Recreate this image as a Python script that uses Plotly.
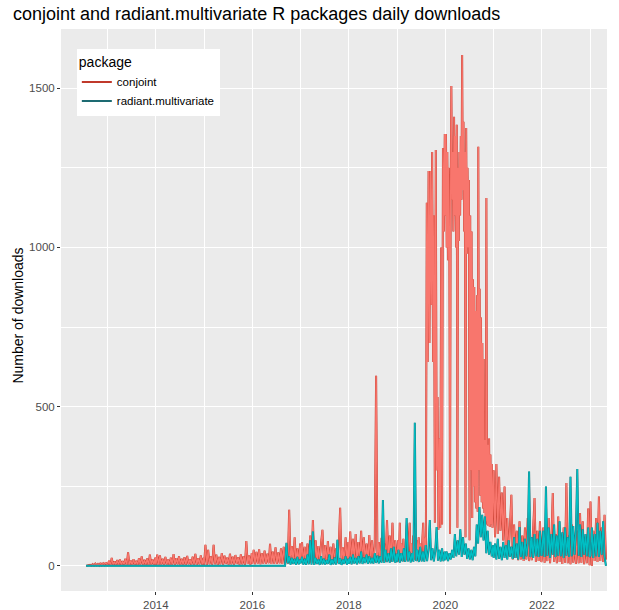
import pandas as pd
import plotly.graph_objects as go

# ---- data (approx. 5-10 day samples, one list per year) ----
conjoint_2012 = [0, 1, 0, 3, 1, 5, 1, 7, 2, 6, 1, 9, 2, 8, 3, 11, 2]
conjoint_2013 = [2, 16, 1, 25, 3, 14, 2, 18, 3, 20, 2, 15, 4, 22, 2, 42, 3, 17, 2, 21,
                 3, 16, 2, 24, 4, 30, 2, 19, 3, 23, 2, 35, 4, 20, 3, 26]
conjoint_2014 = [3, 35, 2, 33, 4, 22, 3, 28, 4, 20, 2, 26, 4, 37, 3, 24, 5, 30, 3, 22,
                 4, 27, 2, 31, 5, 21, 3, 29, 4, 38, 3, 24, 5, 33, 4, 25]
conjoint_2015 = [4, 66, 3, 50, 5, 30, 4, 66, 5, 35, 3, 28, 5, 40, 4, 32, 6, 26, 4, 38,
                 5, 29, 4, 34, 6, 27, 4, 36, 5, 30, 4, 78, 6, 33, 4, 40]
conjoint_2016 = [6, 50, 5, 44, 7, 52, 5, 40, 7, 48, 6, 38, 8, 69, 6, 45, 7, 58, 6, 42,
                 8, 55, 6, 60, 8, 48, 7, 176, 9, 62, 8, 90, 10, 55, 8, 70]
conjoint_2017 = [12, 75, 9, 60, 11, 70, 8, 95, 10, 144, 8, 80, 12, 62, 9, 72, 113, 10, 65, 8,
                 78, 11, 60, 9, 70, 12, 55, 10, 68, 182, 11, 58, 9, 90, 12, 75]
conjoint_2018 = [14, 108, 12, 85, 15, 100, 11, 75, 14, 110, 12, 90, 15, 70, 12, 97, 14, 80, 11, 60,
                 597, 13, 75, 12, 88, 15, 70, 13, 144, 16, 95, 14, 135, 17, 80, 15]
conjoint_2019 = [16, 80, 14, 135, 17, 70, 15, 85, 14, 60, 18, 130, 15, 75, 135, 17, 70, 16, 95, 20,
                 65, 18, 80, 15, 90, 20, 70, 18, 85, 135, 22, 90,
                 60, 1140, 640, 1240, 700, 1240, 820, 1300, 640, 1100, 135, 1306, 300, 530, 113,
                 400, 120, 1000, 130, 1312, 1050, 1356]
conjoint_2020 = [1100, 1356, 1000, 1300, 960, 1250, 1050, 100, 1200, 1507,
                 1150, 1300, 1050, 1410, 1100, 1350, 1000, 1385, 120, 1250,
                 1020, 1300, 1100, 1350, 1150, 1604, 1180, 1395, 1050, 1300,
                 90, 1375, 980, 1250, 1000, 1212, 80, 1100, 300, 1050,
                 150, 900, 250, 876, 200, 800, 180, 850, 170, 1316,
                 300, 870, 220, 780, 200, 700, 180, 650, 166, 395,
                 140, 1155, 130, 380, 125, 400, 122, 350, 130, 320,
                 120, 300]
conjoint_2021 = [300, 90, 320, 100, 280, 110, 230, 80, 249, 40, 150, 30, 120, 223, 20, 130, 25, 110,
                 18, 140, 20, 95, 15, 120, 20, 150, 15, 90, 18, 125, 213, 12, 110, 15, 140, 12]
conjoint_2022 = [20, 120, 10, 90, 15, 150, 8, 80, 229, 12, 100, 8, 155, 12, 85, 6, 120, 10, 260,
                 8, 95, 5, 130, 10, 75, 6, 110, 8, 166, 10, 140, 5, 90, 8, 180, 2]
conjoint_2023 = [202, 0, 110, 15, 150, 12, 218, 15, 120, 12, 160, 20]

radiant_2012 = [0, 0]
radiant_2013 = [0, 0]
radiant_2014 = [0, 0]
radiant_2015 = [0, 0]
radiant_2016 = [0, 0, 0, 0, 0, 0, 0, 0, 0, 0, 0, 0, 0, 0, 0, 0, 0, 0, 0, 0, 0, 0, 0, 0, 0,
                72, 8, 30, 4, 25, 6, 22, 3, 28, 5, 20]
radiant_2017 = [8, 28, 4, 22, 3, 35, 5, 80, 4, 108, 3, 25, 6, 20, 3, 30, 5, 22, 4, 18,
                6, 35, 3, 20, 5, 26, 4, 82, 6, 24, 3, 20, 6, 30, 4, 22]
radiant_2018 = [6, 28, 5, 35, 7, 25, 5, 30, 8, 45, 6, 26, 9, 35, 6, 30, 8, 25, 7, 40,
                9, 32, 8, 30, 10, 207, 9, 50, 12, 40, 10, 55, 12, 60, 10, 38]
radiant_2019 = [12, 50, 10, 40, 14, 55, 12, 150, 14, 45, 11, 40, 13, 449, 15, 50, 12, 60, 14, 45,
                13, 65, 15, 48, 144, 18, 55, 14, 45, 122, 16, 50, 14, 55, 15, 45]
radiant_2020 = [18, 45, 15, 40, 20, 50, 25, 100, 30, 80, 35, 115, 28, 90, 35, 70, 22, 55, 20, 50,
                18, 60, 30, 130, 70, 185, 90, 160, 80, 155, 40, 110, 35, 75, 30, 65]
radiant_2021 = [25, 70, 20, 85, 22, 60, 18, 75, 25, 65, 20, 80, 28, 60, 22, 90, 25, 70, 20, 122,
                28, 75, 22, 85, 30, 70, 296, 28, 90, 25, 100, 30, 85, 28, 110, 32]
radiant_2022 = [35, 110, 28, 249, 32, 120, 25, 100, 35, 130, 28, 95, 32, 140, 30, 105, 25, 120, 32,
                90, 28, 280, 30, 125, 35, 110, 304, 32, 130, 28, 115, 35, 100, 30, 120, 28]
radiant_2023 = [32, 120, 25, 100, 30, 135, 28, 110, 35, 140, 30, 0]

years = list(range(2012, 2024))
conjoint_by_year = [conjoint_2012, conjoint_2013, conjoint_2014, conjoint_2015, conjoint_2016,
                    conjoint_2017, conjoint_2018, conjoint_2019, conjoint_2020, conjoint_2021,
                    conjoint_2022, conjoint_2023]
radiant_by_year = [radiant_2012, radiant_2013, radiant_2014, radiant_2015, radiant_2016,
                   radiant_2017, radiant_2018, radiant_2019, radiant_2020, radiant_2021,
                   radiant_2022, radiant_2023]
year_start = {2012: "2012-07-22", 2023: "2023-01-04"}
year_end = {2023: "2023-05-01"}

x_ticks = ["2014-01-01", "2016-01-01", "2018-01-01", "2020-01-01", "2022-01-01"]
x_tick_labels = ["2014", "2016", "2018", "2020", "2022"]
y_ticks = [0, 500, 1000, 1500]


def build(by_year):
    xs, ys = [], []
    for yr, vals in zip(years, by_year):
        start = year_start.get(yr, f"{yr}-01-01")
        end = year_end.get(yr, f"{yr}-12-28")
        dates = pd.date_range(start, end, periods=len(vals))
        xs.extend(dates)
        ys.extend(vals)
    return xs, ys


cx, cy = build(conjoint_by_year)
rx, ry = build(radiant_by_year)

fig = go.Figure()
series = [
    ("conjoint", cx, cy, "#C0392B", "#F8766D"),
    ("radiant.multivariate", rx, ry, "#1D6B72", "#00BFC4"),
]
for name, xs, ys, dark, light in series:
    fig.add_trace(go.Scatter(x=xs, y=ys, mode="lines", name=name,
                             line=dict(color=dark, width=2.0), showlegend=True))
    fig.add_trace(go.Scatter(x=xs, y=ys, mode="lines", name=name,
                             line=dict(color=light, width=1.3), showlegend=False))

font_family = "Liberation Sans, Arial, sans-serif"
fig.update_layout(
    width=619, height=610,
    margin=dict(l=61, r=12, t=29, b=19, autoexpand=False),
    paper_bgcolor="white",
    plot_bgcolor="#EBEBEB",
    font=dict(family=font_family, color="#4D4D4D", size=11.5),
    title=dict(text="conjoint and radiant.multivariate R packages daily downloads",
               x=13 / 619, xanchor="left", xref="container",
               y=1 - 7 / 610, yanchor="top", yref="container",
               font=dict(size=18, color="black", family=font_family)),
    legend=dict(title=dict(text="package", font=dict(size=14, color="black")),
                font=dict(size=11.5, color="black"),
                bgcolor="white", borderwidth=0,
                x=0.029, y=0.964, xanchor="left", yanchor="top"),
    showlegend=True,
)
fig.update_xaxes(
    type="date", automargin=False,
    range=["2012-01-14", "2023-05-09"],
    tickvals=x_ticks, ticktext=x_tick_labels,
    ticks="outside", ticklen=3, tickcolor="#333333", tickwidth=1,
    showgrid=True, gridcolor="white", gridwidth=1.1,
    minor=dict(dtick="M24", tick0="2013-01-01", showgrid=True,
               gridcolor="white", gridwidth=0.5),
    zeroline=False, showline=False,
    tickfont=dict(size=11.5, color="#4D4D4D"),
)
fig.update_yaxes(
    range=[-79, 1686], automargin=False,
    tickvals=y_ticks,
    ticks="outside", ticklen=3, tickcolor="#333333", tickwidth=1,
    showgrid=True, gridcolor="white", gridwidth=1.1,
    minor=dict(dtick=250, tick0=250, showgrid=True, gridcolor="white", gridwidth=0.5),
    zeroline=False, showline=False,
    tickfont=dict(size=11.5, color="#4D4D4D"),
)
fig.add_annotation(text="Number of downloads", textangle=-90,
                   xref="paper", yref="paper", x=(18 - 61) / 546, y=0.49,
                   xanchor="center", yanchor="middle", showarrow=False,
                   font=dict(size=14, color="black", family=font_family))

fig.write_html("out.html")
